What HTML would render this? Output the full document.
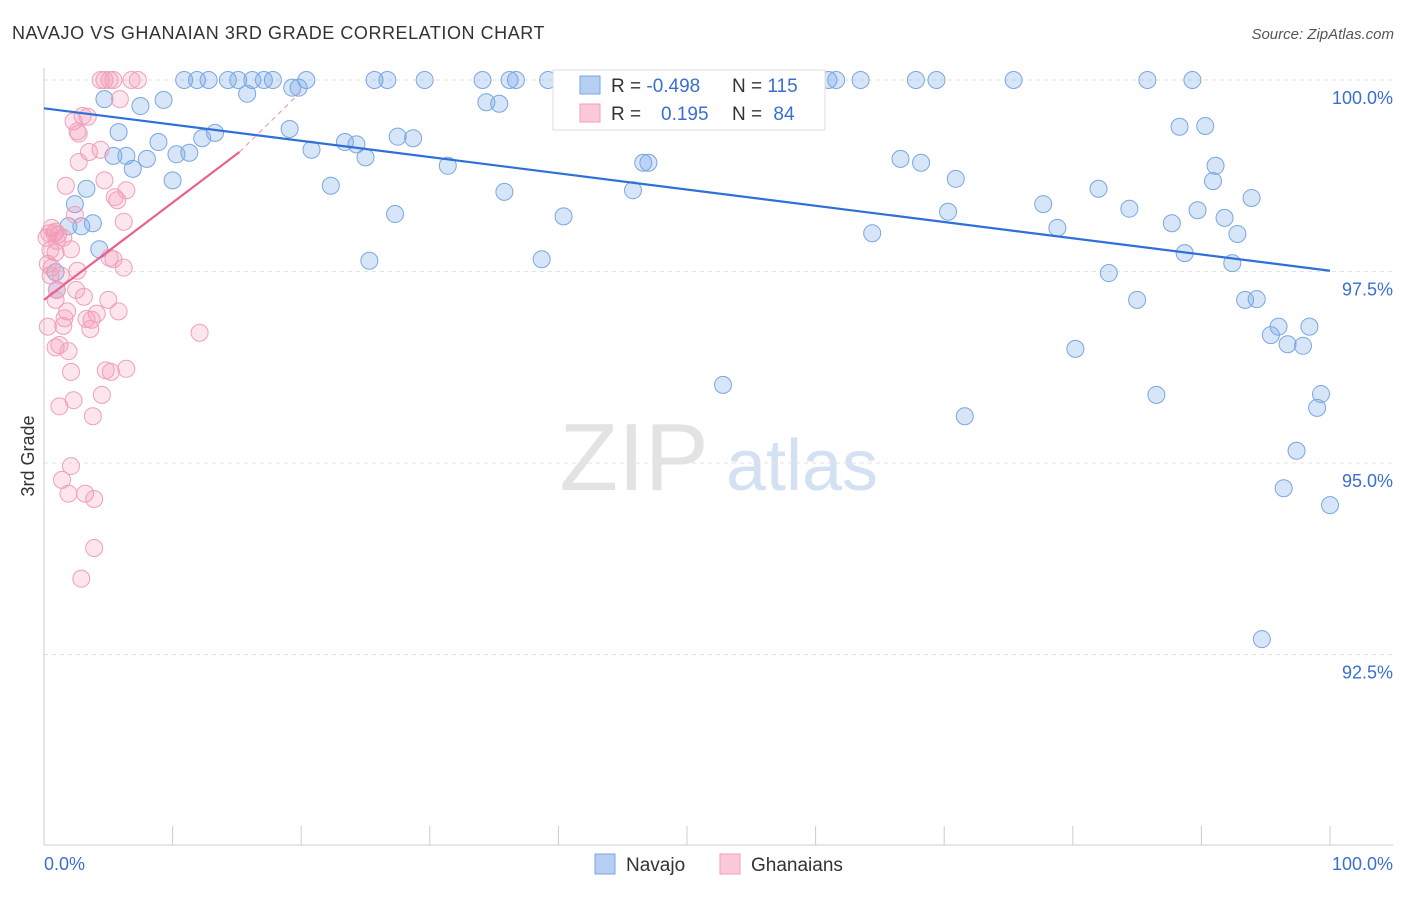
<!DOCTYPE html>
<html><head><meta charset="utf-8"><style>
body{margin:0;background:#fff;font-family:"Liberation Sans",sans-serif;}
svg text{font-family:"Liberation Sans",sans-serif;}
</style></head><body>
<svg id="chart" width="1406" height="892" xmlns="http://www.w3.org/2000/svg">
<text x="12" y="39" font-size="18" fill="#333" letter-spacing="0.55">NAVAJO VS GHANAIAN 3RD GRADE CORRELATION CHART</text>
<text x="1394" y="39" font-size="15" fill="#555" font-style="italic" text-anchor="end">Source: ZipAtlas.com</text>
<text x="34" y="456" font-size="18" fill="#333" transform="rotate(-90 34 456)" text-anchor="middle">3rd Grade</text>
<g><text x="634" y="490" font-size="96" fill="#e3e3e3" font-family="Liberation Serif,serif" text-anchor="middle">ZIP</text><text x="802" y="490" font-size="72" fill="#d4e1f3" text-anchor="middle">atlas</text></g>
<g id="grid"></g><g id="axes"></g><g id="pts"></g><g id="trend"></g>
<g>
<rect x="553" y="70" width="272" height="60" fill="#fff" stroke="#ddd"/>
<rect x="580" y="76" width="20" height="18" fill="#b5cff3" stroke="#7aa7e0"/>
<rect x="580" y="104" width="20" height="18" fill="#fbc9d7" stroke="#f0a0b8"/>
<text x="611" y="92" font-size="19" fill="#333">R = <tspan fill="#3a6fd0">-0.498</tspan></text>
<text x="732" y="92" font-size="19" fill="#333">N = <tspan fill="#3a6fd0">115</tspan></text>
<text x="611" y="120" font-size="19" fill="#333">R = </text><text x="661" y="120" font-size="19" fill="#3a6fd0">0.195</text>
<text x="732" y="120" font-size="19" fill="#333">N = <tspan fill="#3a6fd0" dx="6">84</tspan></text>
</g>
<g>
<rect x="595" y="854" width="20" height="20" fill="#b5cff3" stroke="#7aa7e0"/>
<text x="626" y="871" font-size="19" fill="#333">Navajo</text>
<rect x="720" y="854" width="20" height="20" fill="#fbc9d7" stroke="#f0a0b8"/>
<text x="751" y="871" font-size="19" fill="#333">Ghanaians</text>
</g>
</svg>
<script>
const yTicks=[100,97.5,95,92.5];
const yTickLabels=["100.0%","97.5%","95.0%","92.5%"];
const xTickLabels=["0.0%","100.0%"];
const navajoX=[10.9,11.9,12.8,14.3,15.1,16.2,17.1,17.8,20.4,25.7,26.7,29.6,34.1,36.2,36.7,39.2,40.6,52.6,61.0,61.6,63.5,67.8,69.4,75.4,85.8,89.3,4.7,7.5,9.3,15.8,19.3,19.8,34.4,35.4,56.5,5.8,19.1,13.3,12.3,8.9,23.4,24.3,27.5,28.7,5.4,6.4,8.0,10.3,11.3,20.8,25.0,6.9,10.0,31.4,46.6,47.0,66.6,68.2,91.1,88.3,90.3,3.3,22.3,35.8,45.8,70.9,90.9,93.9,82.0,77.7,2.4,1.9,2.9,3.8,27.3,40.4,70.3,84.4,87.7,89.7,91.8,92.8,78.8,64.4,4.3,88.7,92.4,25.3,38.7,82.8,85.0,93.4,94.3,95.4,96.0,98.4,96.7,97.9,80.2,52.8,86.5,99.3,99.0,71.6,97.4,96.4,100,94.7,0.9,1.0];
const navajoY=[100,100,100,100,100,100,100,100,100,100,100,100,100,100,100,100,100,100,100,100,100,100,100,100,100,100,99.75,99.66,99.74,99.82,99.90,99.90,99.71,99.69,99.65,99.32,99.36,99.31,99.24,99.19,99.19,99.16,99.26,99.24,99.01,99.01,98.97,99.03,99.05,99.09,98.99,98.84,98.69,98.88,98.92,98.92,98.97,98.92,98.88,99.39,99.40,98.58,98.62,98.54,98.56,98.71,98.68,98.46,98.58,98.38,98.38,98.09,98.09,98.13,98.25,98.22,98.28,98.32,98.13,98.30,98.20,97.99,98.07,98.00,97.79,97.74,97.61,97.64,97.66,97.48,97.13,97.13,97.14,96.67,96.78,96.78,96.55,96.53,96.49,96.02,95.89,95.90,95.72,95.61,95.16,94.67,94.45,92.70,97.49,97.26];
const ghanaX=[4.4,4.7,5.1,5.4,6.8,7.3,5.9,3.0,3.4,2.3,2.6,2.7,3.5,4.4,2.7,1.7,4.7,6.4,5.5,5.7,2.4,6.2,0.6,0.9,1.1,0.2,1.5,2.1,0.5,0.9,5.1,5.4,6.2,0.6,2.6,0.5,1.3,1.0,2.5,3.1,5.0,0.9,1.8,4.1,5.8,1.6,3.3,3.7,1.5,0.3,3.6,12.1,1.2,1.9,0.9,4.8,5.2,6.4,2.1,4.5,2.3,1.2,3.8,2.1,1.4,1.9,3.2,3.9,3.9,2.9,0.4,0.8,1.0,0.3];
const ghanaY=[100,100,100,100,100,100,99.75,99.53,99.52,99.46,99.33,99.30,99.06,99.09,98.93,98.62,98.69,98.56,98.47,98.43,98.24,98.15,98.07,98.02,97.98,97.94,97.94,97.79,97.78,97.75,97.68,97.66,97.55,97.55,97.51,97.45,97.45,97.26,97.26,97.17,97.13,97.13,96.98,96.95,96.98,96.89,96.88,96.87,96.79,96.78,96.75,96.70,96.54,96.46,96.51,96.21,96.19,96.23,96.19,95.89,95.82,95.74,95.61,94.96,94.78,94.60,94.60,94.53,93.89,93.49,98.0,98.0,97.9,97.6];
const navajoTrend=[99.63,97.51];
const ghanaTrend=[97.13,99.06,99.85];
const ghanaTrendX=[0,15.2,20];
const NS="http://www.w3.org/2000/svg";
const xs=v=>44+v*12.86, ys=v=>80+(100-v)*76.6;
function mk(t,a,p){const e=document.createElementNS(NS,t);for(const k in a)e.setAttribute(k,a[k]);p.appendChild(e);return e;}
const grid=document.getElementById('grid'),axes=document.getElementById('axes'),pts=document.getElementById('pts'),tr=document.getElementById('trend');
yTicks.forEach((t,i)=>{
 const l=mk('line',{x1:44,x2:1393,y1:ys(t),y2:ys(t),stroke:'#e2e2e2','stroke-dasharray':'4,4'},grid);
 
 
 const tx=mk('text',{x:1393,y:ys(t)+24,'font-size':18,fill:'#3a6fd0','text-anchor':'end'},axes);
 tx.textContent=yTickLabels[i];
 
 
});
mk('line',{x1:44,x2:44,y1:68,y2:845,stroke:'#ccc'},axes);
mk('line',{x1:44,x2:1393,y1:845,y2:845,stroke:'#ccc'},axes);
for(let i=0;i<=10;i++){const t=mk('line',{x1:xs(i*10),x2:xs(i*10),y1:826,y2:845,stroke:'#ccc'},axes);
 
 }
const xl0=mk('text',{x:44,y:870,'font-size':18,fill:'#3a6fd0'},axes);xl0.textContent=xTickLabels[0];


const xl1=mk('text',{x:1393,y:870,'font-size':18,fill:'#3a6fd0','text-anchor':'end'},axes);xl1.textContent=xTickLabels[1];


navajoX.forEach((x,i)=>{const c=mk('circle',{cx:xs(x),cy:ys(navajoY[i]),r:8.5,fill:'rgba(110,160,230,0.28)',stroke:'#7aa7e0','stroke-width':1},pts);
 
 });
ghanaX.forEach((x,i)=>{const c=mk('circle',{cx:xs(x),cy:ys(ghanaY[i]),r:8.5,fill:'rgba(245,150,180,0.25)',stroke:'#f0a0b8','stroke-width':1},pts);
 
 });
const bl=mk('line',{x1:xs(0),y1:ys(navajoTrend[0]),x2:xs(100),y2:ys(navajoTrend[1]),stroke:'#2f6fd8','stroke-width':2.2},tr);


const pl=mk('line',{x1:xs(ghanaTrendX[0]),y1:ys(ghanaTrend[0]),x2:xs(ghanaTrendX[1]),y2:ys(ghanaTrend[1]),stroke:'#e8628f','stroke-width':2.2},tr);


const pd=mk('line',{x1:xs(ghanaTrendX[1]),y1:ys(ghanaTrend[1]),x2:xs(ghanaTrendX[2]),y2:ys(ghanaTrend[2]),stroke:'#f0a0b8','stroke-width':1.2,'stroke-dasharray':'5,4'},tr);


</script>
</body></html>
